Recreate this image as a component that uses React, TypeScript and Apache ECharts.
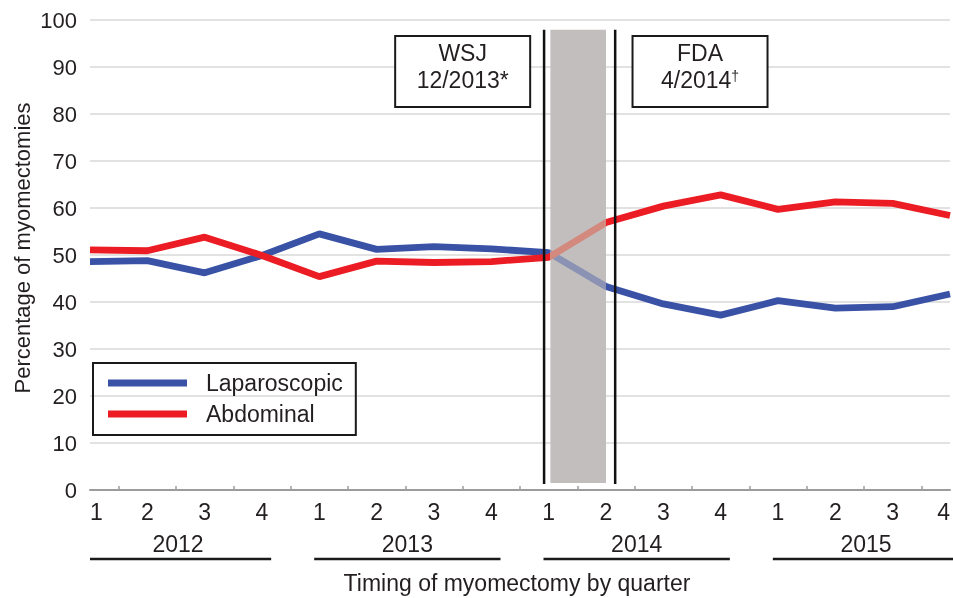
import React, { useEffect, useRef } from 'react';
import * as echarts from 'echarts';

const quarterLabels = ['1', '2', '3', '4', '1', '2', '3', '4', '1', '2', '3', '4', '1', '2', '3', '4'];
const yearLabels = ['2012', '2013', '2014', '2015'];
const seriesNames = ['Laparoscopic', 'Abdominal'];
const laparoscopic = [48.6, 48.8, 46.2, 49.9, 54.5, 51.2, 51.8, 51.3, 50.5, 43.3, 39.6, 37.2, 40.3, 38.7, 39.0, 41.7];
const abdominal = [51.1, 50.9, 53.8, 49.9, 45.4, 48.7, 48.4, 48.6, 49.5, 56.9, 60.4, 62.8, 59.7, 61.3, 61.0, 58.4];
const eventTitles = ['WSJ', 'FDA'];
const eventDates = ['12/2013', '4/2014'];
const eventMarks = ['*', '†'];
const eventLinePositions = [7.92, 9.16];
const eventBoxCenters = [6.5, 10.64];
const shadedRange = [8.03, 9.0];

const BLUE = '#3a52a6';
const BLUE_FADED = '#8b92b4';
const RED = '#ec1c24';
const RED_FADED = '#d3897d';
const TEXT = '#231f20';
const FONT = '"Liberation Sans", Arial, Helvetica, sans-serif';

export default function App() {
  const ref = useRef<HTMLDivElement>(null);
  useEffect(() => {
    const chart = echarts.init(ref.current!, null, { renderer: 'svg' });
    const n = quarterLabels.length;
    const tickValues = quarterLabels.slice(1).map((_, i) => i + 0.5);
    const labelValues = quarterLabels.map((_, i) => i);

    chart.setOption({
      animation: false,
      textStyle: { fontFamily: FONT },
      grid: { left: 90, top: 20, width: 864.6, height: 470, containLabel: false },
      xAxis: {
        type: 'value',
        min: 0,
        max: n - 1,
        interval: 1,
        axisLine: { show: true, lineStyle: { color: '#9c9c9c', width: 2 } },
        axisTick: { show: true, inside: true, length: 4, customValues: tickValues, lineStyle: { color: '#9c9c9c', width: 1.5 } },
        axisLabel: {
          customValues: labelValues,
          formatter: (v: number) => quarterLabels[Math.round(v)] ?? '',
          fontSize: 23,
          color: TEXT,
          margin: 10,
          alignMinLabel: 'left',
          alignMaxLabel: 'right',
          fontFamily: FONT,
        },
        splitLine: { show: false },
      },
      yAxis: {
        type: 'value',
        min: 0,
        max: 100,
        interval: 10,
        axisLine: { show: false },
        axisTick: { show: false },
        axisLabel: { fontSize: 22, color: TEXT, margin: 13, fontFamily: FONT },
        splitLine: { lineStyle: { color: '#e2e2e2', width: 2 } },
      },
      legend: {
        left: 93,
        top: 363,
        orient: 'vertical',
        borderColor: '#1a1a1a',
        borderWidth: 2,
        padding: [7, 13, 8, 15],
        itemGap: 5,
        itemWidth: 79,
        itemHeight: 7,
        icon: 'rect',
        textStyle: { fontSize: 23, color: TEXT, lineHeight: 26, padding: [0, 0, 0, 14], fontFamily: FONT },
        data: [
          { name: seriesNames[0], icon: 'rect', itemStyle: { color: BLUE }, lineStyle: { color: BLUE, width: 7, cap: 'butt' } },
          { name: seriesNames[1], icon: 'rect', itemStyle: { color: RED }, lineStyle: { color: RED, width: 7, cap: 'butt' } },
        ],
      },
      visualMap: [
        {
          type: 'piecewise', show: false, dimension: 0, seriesIndex: 0,
          pieces: [
            { lt: shadedRange[0], color: BLUE },
            { gte: shadedRange[0], lte: shadedRange[1], color: BLUE_FADED },
            { gt: shadedRange[1], color: BLUE },
          ],
        },
        {
          type: 'piecewise', show: false, dimension: 0, seriesIndex: 1,
          pieces: [
            { lt: shadedRange[0], color: RED },
            { gte: shadedRange[0], lte: shadedRange[1], color: RED_FADED },
            { gt: shadedRange[1], color: RED },
          ],
        },
      ],
      series: [
        {
          name: seriesNames[0],
          type: 'line',
          z: 3,
          symbol: 'none',
          itemStyle: { color: BLUE },
          lineStyle: { width: 6.8 },
          data: laparoscopic.map((v, i) => [i, v]),
        },
        {
          name: seriesNames[1],
          type: 'line',
          z: 3,
          symbol: 'none',
          itemStyle: { color: RED },
          lineStyle: { width: 6.8 },
          data: abdominal.map((v, i) => [i, v]),
        },
        {
          type: 'custom',
          z: 1,
          silent: true,
          clip: false,
          data: [[shadedRange[0], 50]],
          renderItem: (_p: any, api: any) => {
            const a = api.coord([shadedRange[0], 97.9]);
            const b = api.coord([shadedRange[1], 1.5]);
            return { type: 'rect', shape: { x: a[0], y: a[1], width: b[0] - a[0], height: b[1] - a[1] }, style: { fill: '#c1bebd' } };
          },
        },
        {
          type: 'custom',
          z: 4,
          silent: true,
          clip: false,
          data: eventLinePositions.map((x) => [x, 50]),
          renderItem: (_p: any, api: any) => {
            const a = api.coord([api.value(0), 97.9]);
            const b = api.coord([api.value(0), 1.3]);
            return { type: 'line', shape: { x1: a[0], y1: a[1], x2: b[0], y2: b[1] }, style: { stroke: '#111', lineWidth: 2.5 } };
          },
        },
      ],
    });

    const px = (x: number) => chart.convertToPixel({ gridIndex: 0 }, [x, 0])[0];
    const graphics: any[] = [];
    yearLabels.forEach((yr, i) => {
      const q1 = i * 4;
      const q4 = i * 4 + 3;
      const x1 = Math.max(px(0), px(q1 - 0.09));
      const x2 = px(q4 + 0.16);
      graphics.push({
        type: 'text', x: (px(q1) + px(q4)) / 2 + 2, y: 544,
        style: { text: yr, fontSize: 23, fill: TEXT, align: 'center', verticalAlign: 'middle', fontFamily: FONT },
      });
      graphics.push({
        type: 'line', shape: { x1, y1: 559, x2, y2: 559 }, style: { stroke: '#1a1a1a', lineWidth: 2.5 },
      });
    });
    graphics.push({
      type: 'text', x: (px(0) + px(n - 1)) / 2 - 3, y: 583,
      style: { text: 'Timing of myomectomy by quarter', fontSize: 23, fill: TEXT, align: 'center', verticalAlign: 'middle', fontFamily: FONT },
    });
    graphics.push({
      type: 'text', x: 22, y: 248, rotation: Math.PI / 2,
      style: { text: 'Percentage of myomectomies', fontSize: 22, fill: TEXT, align: 'center', verticalAlign: 'middle', fontFamily: FONT },
    });
    eventTitles.forEach((t, i) => {
      const cx = px(eventBoxCenters[i]);
      graphics.push({
        type: 'rect', shape: { x: cx - 67.5, y: 36, width: 135, height: 71 },
        style: { fill: '#fff', stroke: '#1a1a1a', lineWidth: 2 }, z: 10,
      });
      graphics.push({
        type: 'text', x: cx, y: 53, z: 11,
        style: { text: t, fontSize: 23, fill: TEXT, align: 'center', verticalAlign: 'middle', fontFamily: FONT },
      });
      graphics.push({
        type: 'text', x: cx, y: 80, z: 11,
        style: {
          text: `{d|${eventDates[i]}}{m|${eventMarks[i]}}`,
          align: 'center', verticalAlign: 'middle',
          rich: {
            d: { fontSize: 23, fill: TEXT, fontFamily: FONT },
            m: { fontSize: i === 0 ? 23 : 14, fill: TEXT, fontFamily: FONT, verticalAlign: 'top' },
          },
        },
      });
    });
    chart.setOption({ graphic: graphics });
    return () => chart.dispose();
  }, []);
  return <div ref={ref} style={{ position: 'fixed', left: 0, top: 0, width: 953, height: 598 }} />;
}
